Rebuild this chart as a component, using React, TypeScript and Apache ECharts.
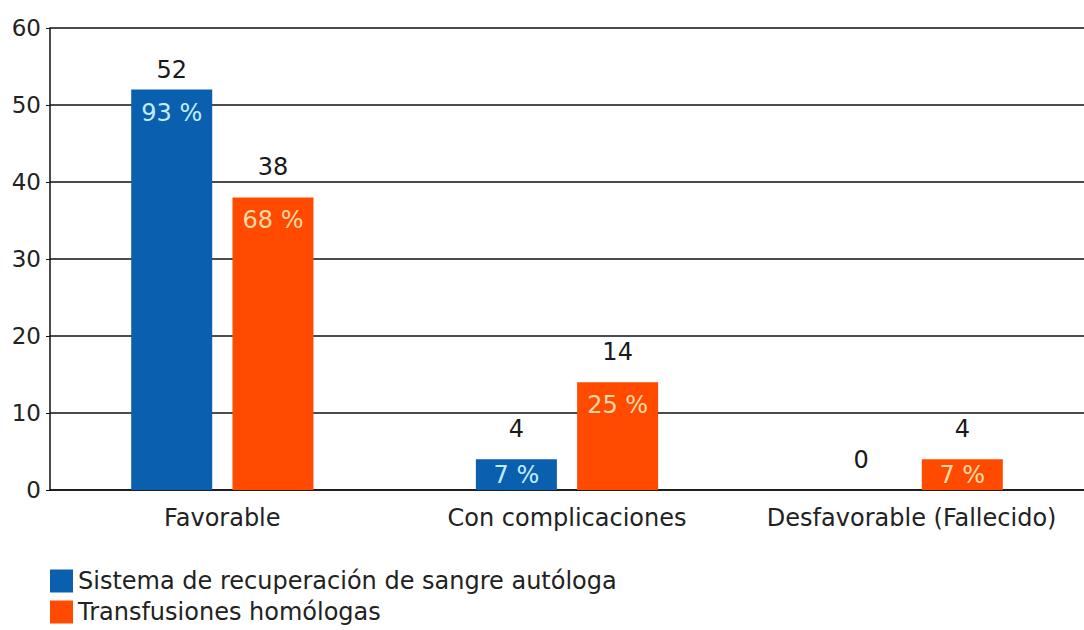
import React, { useEffect, useRef } from "react";
import * as echarts from "echarts";

const categories = ["Favorable", "Con complicaciones", "Desfavorable (Fallecido)"];
const seriesNames = ["Sistema de recuperación de sangre autóloga", "Transfusiones homólogas"];
const autologa = [52, 4, 0];
const homologa = [38, 14, 4];
const autologaPct = [93, 7, 0];
const homologaPct = [68, 25, 7];
const yTicks = [0, 10, 20, 30, 40, 50, 60];

const BLUE = "#0a5fae";
const ORANGE = "#ff4a00";
const FONT = "DejaVu Sans";
const FS = 24;

export default function App() {
  const ref = useRef<HTMLDivElement>(null);
  useEffect(() => {
    if (!ref.current) return;
    const chart = echarts.init(ref.current, null, { renderer: "svg" });
    const yMax = yTicks[yTicks.length - 1];
    const barCommon = {
      type: "bar",
      barWidth: 81,
      barGap: "25%",
    };
    const mkMain = (name: string, vals: number[], color: string) => ({
      ...barCommon,
      name,
      xAxisIndex: 0,
      data: vals.map((v) =>
        v > yMax * 0.8 ? { value: v, label: { distance: 8 } } : { value: v }
      ),
      itemStyle: { color },
      label: {
        show: true,
        position: "top",
        distance: 18,
        color: "#1a1a1a",
        fontFamily: FONT,
        fontSize: FS,
      },
    });
    const mkPct = (vals: number[], pcts: number[], textColor: string) => ({
      ...barCommon,
      xAxisIndex: 1,
      silent: true,
      data: vals.map((v, i) => {
        const item: any = { value: v, pct: pcts[i] };
        if (v < yMax * 0.12) item.label = { position: "inside" };
        return item;
      }),
      itemStyle: { color: "transparent" },
      label: {
        show: true,
        position: "insideTop",
        distance: 11,
        color: textColor,
        fontFamily: FONT,
        fontSize: FS,
        formatter: (p: any) => (p.value > 0 ? `${(p.data as any).pct} %` : ""),
      },
    });
    const mkLegend = (name: string, top: number) => ({
      orient: "vertical",
      left: 50,
      top,
      padding: 0,
      itemWidth: 23,
      itemHeight: 23,
      icon: "rect",
      selectedMode: false,
      textStyle: { fontFamily: FONT, fontSize: 24, color: "#222" },
      data: [name],
    });
    chart.setOption({
      animation: false,
      backgroundColor: "#ffffff",
      textStyle: { fontFamily: FONT },
      grid: { left: 50, right: 0, top: 28, bottom: 140, containLabel: false },
      legend: [mkLegend(seriesNames[0], 569), mkLegend(seriesNames[1], 600)],
      xAxis: [
        {
          type: "category",
          data: categories,
          axisLine: { show: true, lineStyle: { color: "#111", width: 1.5 } },
          axisTick: { show: false },
          axisLabel: { color: "#222", fontFamily: FONT, fontSize: FS, margin: 16, interval: 0 },
        },
        {
          type: "category",
          data: categories,
          show: false,
        },
      ],
      yAxis: {
        type: "value",
        min: yTicks[0],
        max: yMax,
        interval: 10,
        axisLine: { show: true, lineStyle: { color: "#111", width: 1.5 } },
        axisTick: { show: true, length: 4, lineStyle: { color: "#111" } },
        axisLabel: { color: "#222", fontFamily: FONT, fontSize: 23, margin: 9 },
        splitLine: { show: true, lineStyle: { color: "#111", width: 1.5 } },
      },
      series: [
        mkMain(seriesNames[0], autologa, BLUE),
        mkMain(seriesNames[1], homologa, ORANGE),
        mkPct(autologa, autologaPct, "#c4ecff"),
        mkPct(homologa, homologaPct, "#ffd9a6"),
      ],
    });
    return () => chart.dispose();
  }, []);
  return (
    <div
      ref={ref}
      style={{ position: "fixed", left: 0, top: 0, width: 1084, height: 630, background: "#fff" }}
    />
  );
}
